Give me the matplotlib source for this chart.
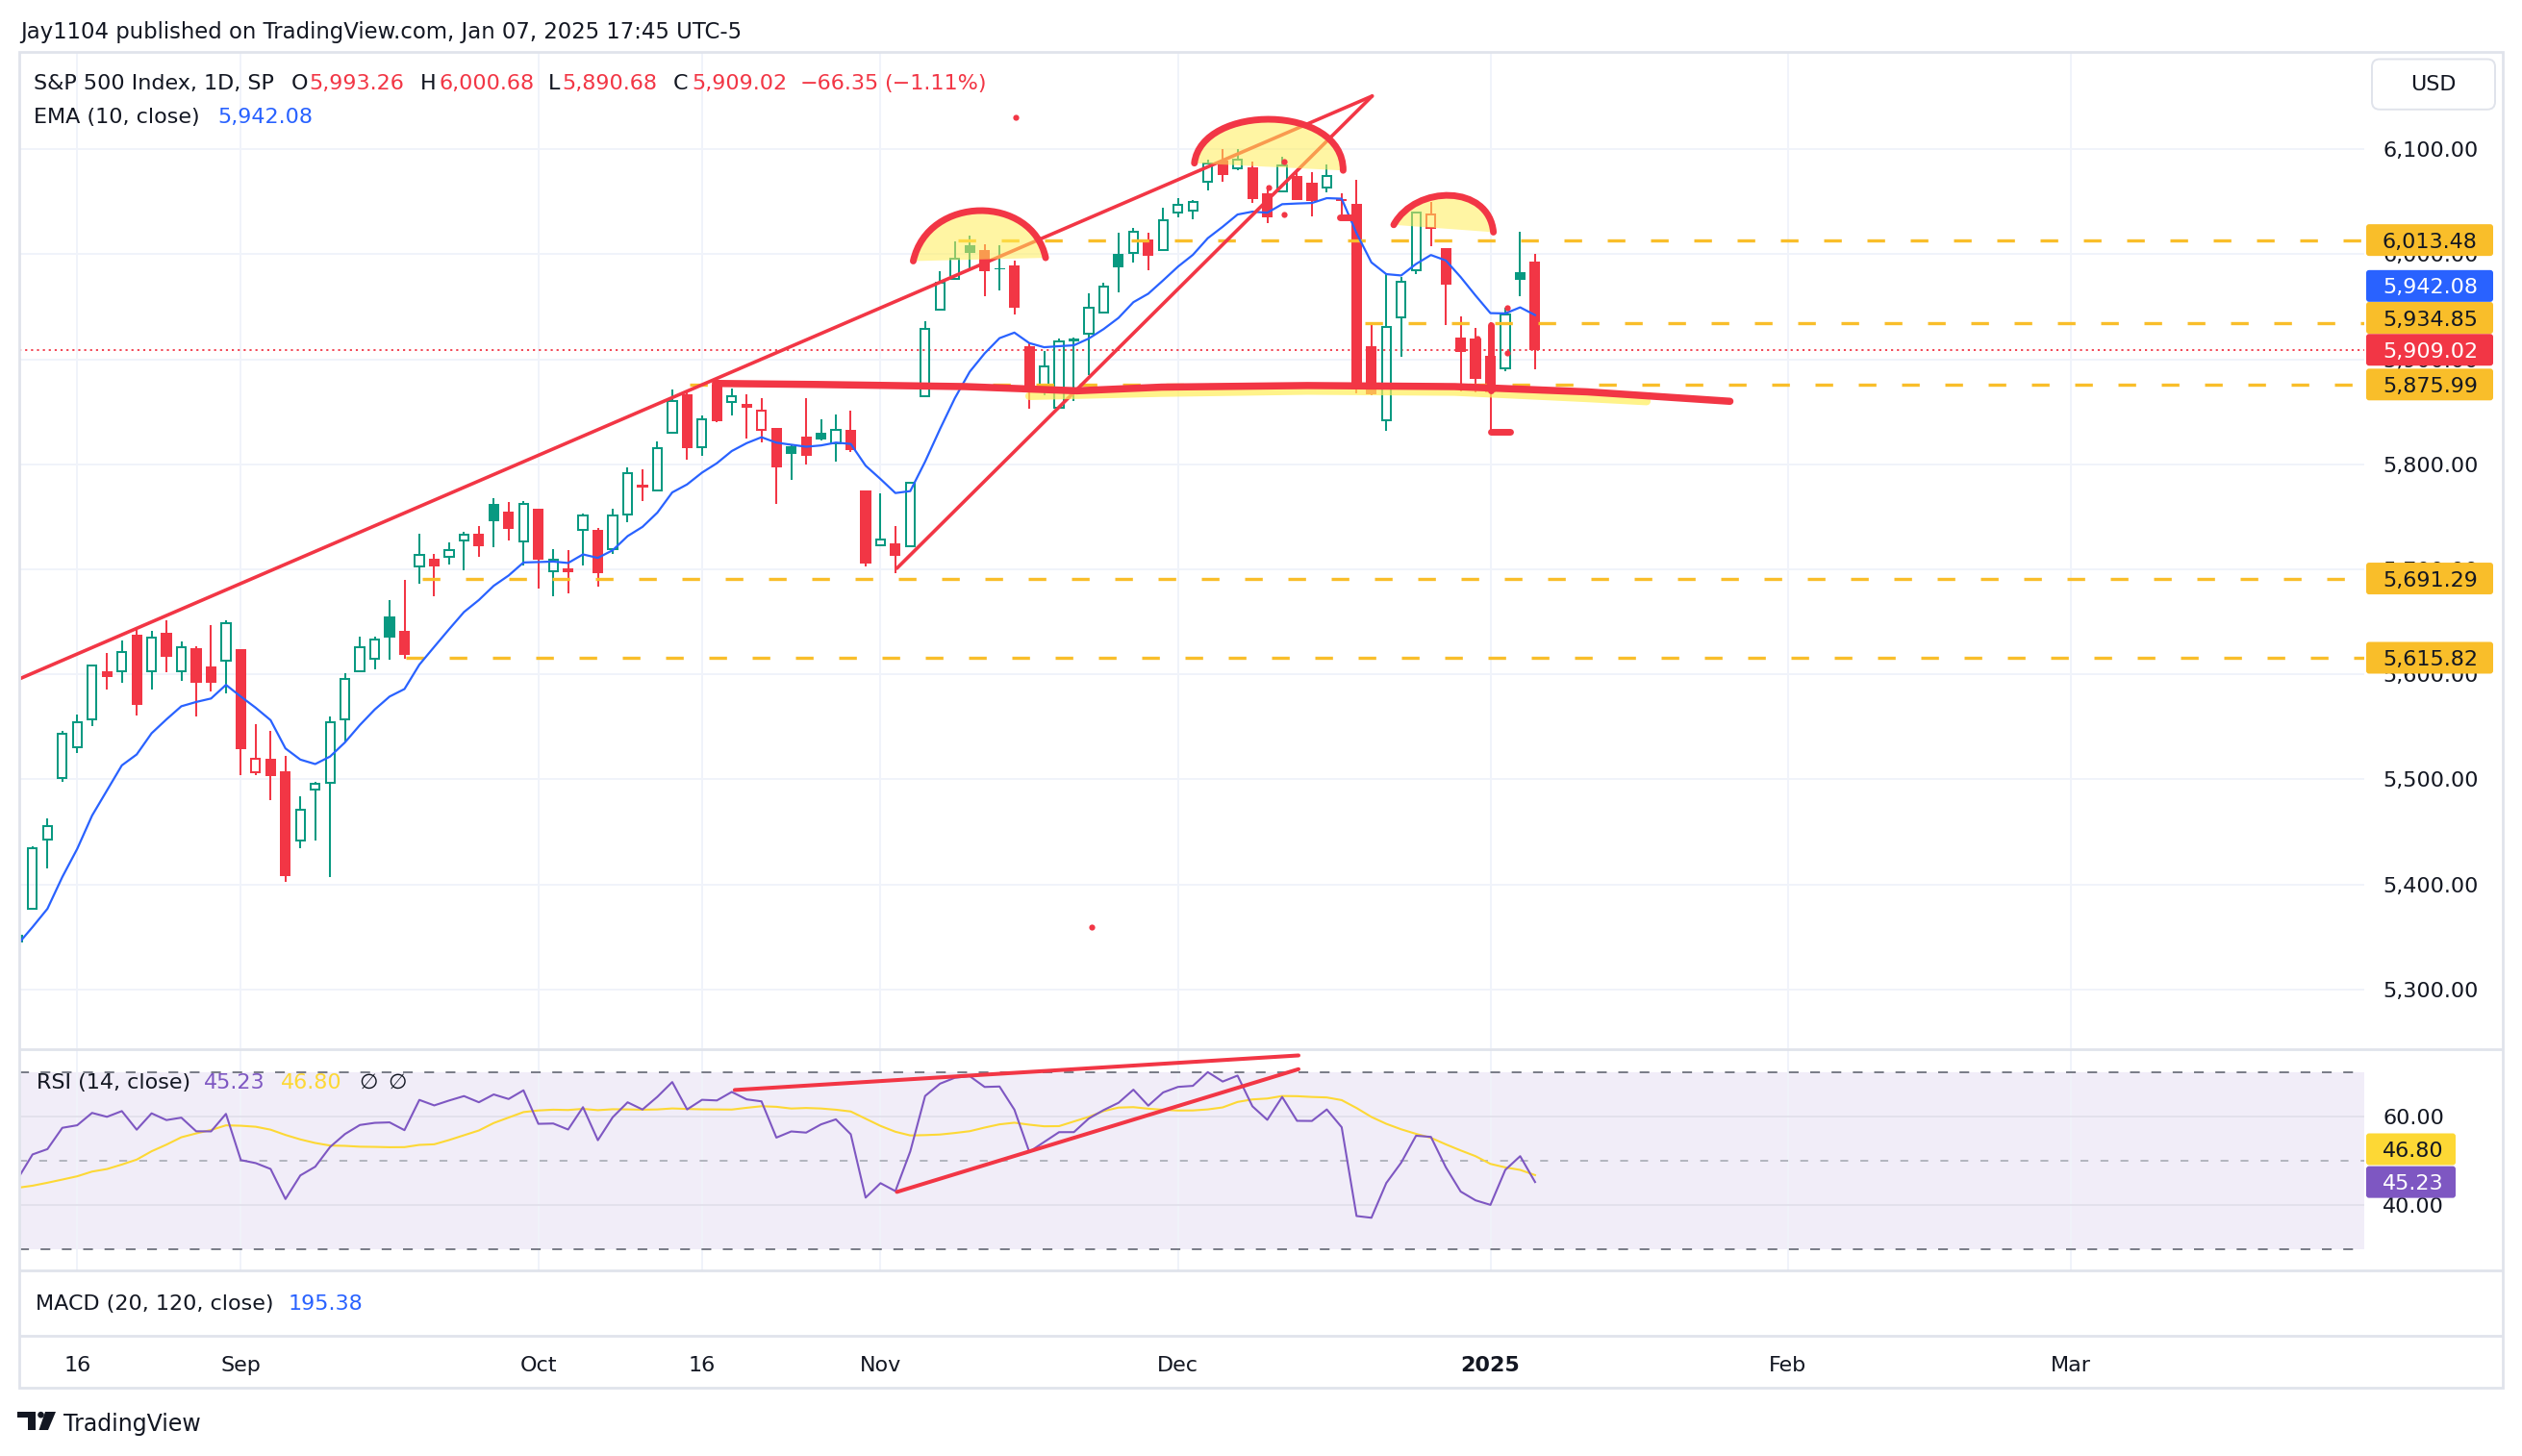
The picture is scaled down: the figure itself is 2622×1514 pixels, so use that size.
import matplotlib
matplotlib.use('Agg')  # no display

import numpy as np
import pandas as pd
import matplotlib.pyplot as plt
from matplotlib import transforms
from matplotlib.path import Path
from matplotlib.patches import PathPatch, FancyBboxPatch, Polygon, Circle, Rectangle

W, H = 2622, 1514

# ---- daily bars, Aug 12 2024 .. Jan 7 2025 ----
opens = [5351.88, 5376.98, 5442.80, 5501.13, 5530.50, 5557.23, 5602.88, 5603.09, 5637.77, 5602.82,
         5639.66, 5602.89, 5624.51, 5607.30, 5612.74, 5623.89, 5506.68, 5520.08, 5507.33, 5442.07,
         5490.51, 5496.42, 5557.48, 5603.34, 5615.21, 5655.51, 5641.68, 5702.63, 5709.88, 5711.90,
         5727.41, 5733.65, 5762.22, 5755.36, 5726.52, 5757.73, 5698.19, 5698.19, 5737.80, 5737.80,
         5719.14, 5751.80, 5778.36, 5775.09, 5829.81, 5866.74, 5816.58, 5875.62, 5859.43, 5857.82,
         5832.70, 5834.50, 5816.80, 5826.75, 5830.20, 5819.68, 5832.65, 5775.34, 5723.22, 5725.15,
         5722.43, 5864.89, 5947.55, 5976.76, 6008.86, 6003.60, 5985.75, 5989.68, 5912.79, 5874.17,
         5854.04, 5920.20, 5924.37, 5944.36, 6000.03, 6000.98, 6014.11, 6003.98, 6040.11, 6041.97,
         6069.39, 6089.03, 6081.38, 6083.00, 6057.59, 6060.15, 6074.29, 6068.17, 6063.79, 6052.55,
         6047.65, 5912.71, 5842.00, 5940.25, 5984.63, 6024.97, 6006.17, 5920.67, 5919.74, 5903.26,
         5891.07, 5982.81, 5993.26]
highs = [5371.20, 5436.50, 5463.22, 5546.23, 5561.98, 5608.30, 5620.51, 5632.68, 5643.22, 5641.82,
         5651.62, 5631.18, 5627.03, 5646.95, 5651.37, 5623.89, 5552.99, 5546.30, 5522.47, 5484.20,
         5497.91, 5560.41, 5600.71, 5636.27, 5636.05, 5670.81, 5689.75, 5733.57, 5715.14, 5725.36,
         5735.32, 5741.03, 5767.37, 5763.78, 5765.14, 5757.73, 5719.14, 5718.78, 5753.32, 5739.34,
         5757.60, 5796.80, 5795.03, 5822.13, 5871.41, 5870.36, 5846.52, 5878.46, 5872.17, 5866.92,
         5863.04, 5834.85, 5817.80, 5862.82, 5842.92, 5847.19, 5850.94, 5775.34, 5772.52, 5741.43,
         5783.44, 5936.14, 5983.84, 6012.45, 6017.31, 6009.92, 6008.19, 5993.88, 5915.09, 5908.12,
         5920.19, 5920.67, 5962.38, 5972.90, 6020.75, 6025.42, 6020.16, 6044.17, 6053.58, 6052.06,
         6089.84, 6099.97, 6099.97, 6088.51, 6065.40, 6092.59, 6079.68, 6078.58, 6085.19, 6057.68,
         6070.67, 5935.52, 5982.06, 5978.25, 6040.10, 6049.75, 6006.17, 5940.79, 5929.74, 5935.09,
         5949.34, 6021.04, 6000.68]
lows = [5324.37, 5376.98, 5415.01, 5497.97, 5525.17, 5550.74, 5585.50, 5591.57, 5560.95, 5585.16,
        5602.34, 5593.48, 5560.20, 5583.71, 5581.79, 5504.13, 5503.66, 5480.15, 5402.62, 5434.49,
        5441.72, 5406.96, 5535.50, 5601.65, 5604.53, 5614.05, 5615.08, 5686.42, 5674.49, 5704.22,
        5698.99, 5712.06, 5721.01, 5727.34, 5703.53, 5681.28, 5674.00, 5677.36, 5703.48, 5683.50,
        5714.56, 5745.02, 5764.76, 5775.09, 5829.81, 5804.48, 5808.34, 5840.25, 5846.11, 5824.81,
        5821.17, 5762.41, 5784.92, 5799.98, 5823.08, 5802.34, 5811.28, 5702.86, 5723.22, 5696.51,
        5722.10, 5864.89, 5947.55, 5976.76, 5986.69, 5960.08, 5965.91, 5942.28, 5853.01, 5865.95,
        5853.01, 5860.57, 5885.33, 5944.36, 5963.91, 5992.27, 5984.87, 6003.98, 6035.33, 6033.39,
        6061.06, 6069.12, 6079.98, 6048.63, 6029.89, 6060.15, 6051.25, 6035.77, 6059.14, 6035.19,
        5867.79, 5866.07, 5832.30, 5902.57, 5981.44, 6007.37, 5932.95, 5869.16, 5868.86, 5829.53,
        5888.66, 5960.01, 5890.68]
closes = [5344.39, 5434.43, 5455.21, 5543.22, 5554.25, 5608.25, 5597.12, 5620.85, 5570.64, 5634.61,
          5616.84, 5625.80, 5592.18, 5591.96, 5648.40, 5528.93, 5520.07, 5503.41, 5408.42, 5471.05,
          5495.52, 5554.13, 5595.76, 5626.02, 5633.09, 5634.58, 5618.26, 5713.64, 5702.55, 5718.57,
          5732.93, 5722.26, 5745.37, 5738.17, 5762.48, 5708.75, 5709.54, 5699.94, 5751.07, 5695.94,
          5751.13, 5792.04, 5780.05, 5815.03, 5859.85, 5815.26, 5842.47, 5841.47, 5864.67, 5853.98,
          5851.20, 5797.42, 5809.86, 5808.12, 5823.52, 5832.92, 5813.67, 5705.45, 5728.80, 5712.69,
          5782.76, 5929.04, 5973.10, 5995.54, 6001.35, 5983.99, 5985.38, 5949.17, 5870.62, 5893.62,
          5916.98, 5917.11, 5948.71, 5969.34, 5987.37, 6021.63, 5998.74, 6032.38, 6047.15, 6049.88,
          6086.49, 6075.11, 6090.27, 6052.85, 6034.91, 6084.19, 6051.25, 6051.09, 6074.08, 6050.61,
          5872.16, 5867.08, 5930.85, 5974.07, 6040.04, 6037.59, 5970.84, 5906.94, 5881.63, 5868.55,
          5942.47, 5975.38, 5909.02]
# closes Jul 23 .. Aug 9, only used to warm up the indicators (off screen)
warmup_closes = [5555.74, 5427.13, 5399.22, 5459.10, 5463.54, 5436.44, 5522.30,
                 5446.68, 5346.56, 5186.33, 5240.03, 5199.50, 5319.31, 5344.16]
ema_seed = 5575.0
rsi_seed_gain, rsi_seed_loss = 30.0, 27.0

tick_labels = ['16', 'Sep', 'Oct', '16', 'Nov', 'Dec', '2025', 'Feb', 'Mar']
tick_pos = [4, 15, 35, 46, 58, 78, 99, 119, 138]
price_ticks = [5300, 5400, 5500, 5600, 5700, 5800, 5900, 6000, 6100]
rsi_ticks = [40, 60]
levels = [6013.48, 5934.85, 5875.99, 5691.29, 5615.82]

header = 'Jay1104 published on TradingView.com, Jan 07, 2025 17:45 UTC-5'
ema_value = '5,942.08'
rsi_value, rsi_ma_value = '45.23', '46.80'
macd_value = '195.38'

# ---- colours ----
TEXT = '#131722'
GREEN = '#089981'
RED = '#F23645'
BLUE = '#2962FF'
PURPLE = '#7E57C2'
YELLOW = '#FDD835'
ORANGE = '#F9BE2A'
GRID = '#F0F3FA'
BORDER = '#E0E3EB'
HILITE = '#FFEE58'

# ---- indicators ----
all_close = np.array(warmup_closes + closes)
ema = np.empty_like(all_close)
ema[0] = ema_seed
for k in range(1, len(all_close)):
    ema[k] = ema[k - 1] + 2 / 11 * (all_close[k] - ema[k - 1])

g, l = rsi_seed_gain, rsi_seed_loss
rsi = []
for d in np.diff(all_close):
    g = (g * 13 + max(d, 0)) / 14
    l = (l * 13 + max(-d, 0)) / 14
    rsi.append(100 - 100 / (1 + g / l))
rsi = np.array(rsi)
rsi_ma = pd.Series(rsi).rolling(14).mean().values
n0 = len(warmup_closes)
ema_vis = ema[n0:]
rsi_vis = rsi[n0 - 1:]
ma_vis = rsi_ma[n0 - 1:]

# ---- figure / panes ----
fig = plt.figure(figsize=(W / 100, H / 100), dpi=100)
fig.patch.set_facecolor('white')


def frac(x0, y0, x1, y1):
    return [x0 / W, 1 - y1 / H, (x1 - x0) / W, (y1 - y0) / H]


ax_p = fig.add_axes(frac(20, 54, 2458, 1090))
ax_r = fig.add_axes(frac(20, 1090.7, 2458, 1320.7))
XMIN, XMAX = 0.104, 157.74
for ax in (ax_p, ax_r):
    ax.set_xlim(XMIN, XMAX)
    for s in ax.spines.values():
        s.set_visible(False)
    ax.set_xticks(tick_pos)
    ax.tick_params(axis='x', length=0, labelbottom=False)
    ax.grid(True, color=GRID, lw=1.4)
    ax.set_axisbelow(True)
    ax.yaxis.tick_right()
    ax.tick_params(axis='y', length=0, pad=13.7, labelsize=16, labelcolor=TEXT)

ax_p.set_ylim(5244.1, 6192.6)
ax_p.set_yticks(price_ticks)
ax_p.yaxis.set_major_formatter(matplotlib.ticker.StrMethodFormatter('{x:,.2f}'))
ax_r.set_ylim(25.36, 75.27)
ax_r.set_yticks(rsi_ticks)
ax_r.yaxis.set_major_formatter(matplotlib.ticker.StrMethodFormatter('{x:.2f}'))
ax_r.grid(True, axis='y', color='#E3E1EC', lw=1.4)

# ---- candles (hollow style) ----
x = np.arange(len(closes))
o, hi, lo, c = map(np.array, (opens, highs, lows, closes))
prev = np.r_[warmup_closes[-1], c[:-1]]
col = np.where(c >= prev, GREEN, RED)
hollow = c > o
top = np.maximum(o, c)
bot = np.minimum(o, c)
body = np.maximum(top - bot, 0.9)
ax_p.vlines(x, top, hi, colors=list(col), lw=1.45, zorder=3)
ax_p.vlines(x, lo, bot, colors=list(col), lw=1.45, zorder=3)
ax_p.bar(x[~hollow], body[~hollow], bottom=bot[~hollow], width=0.72,
         color=list(col[~hollow]), lw=0, zorder=3)
ax_p.bar(x[hollow], body[hollow], bottom=bot[hollow], width=0.6, facecolor='none',
         edgecolor=list(col[hollow]), lw=1.45, zorder=3)
ax_p.plot(x, ema_vis, color=BLUE, lw=1.6, zorder=3.5)

# horizontal levels and last price
level_start = [63.2, 90.55, 45.2, 27.2, 26.1]
for lv, xs in zip(levels, level_start):
    ax_p.hlines(lv, xs, XMAX, colors=ORANGE, lw=2.4, linestyles=[(0, (5.5, 8))], zorder=3.2)
ax_p.axhline(closes[-1], color=RED, lw=1.3, ls=(0, (1.2, 2.2)), zorder=2.5)

# ---- author's drawings on the price pane ----
ax_p.plot([0.11, 91.05], [5595.7, 6150.6], color=RED, lw=2.6, solid_capstyle='round', zorder=4)
ax_p.plot([59.1, 91.05], [5701.0, 6150.6], color=RED, lw=2.6, solid_capstyle='round', zorder=4)

domes = [
    [(60.2, 5993.5), (61.2, 6057.0), (68.2, 6057.0), (69.1, 5996.6)],
    [(79.1, 6086.7), (79.6, 6143.5), (89.1, 6143.5), (89.1, 6079.8)],
    [(92.5, 6028.0), (94.0, 6066.5), (98.9, 6066.5), (99.2, 6021.0)],
]
for pts in domes:
    fill = Path(pts + [pts[0]], [Path.MOVETO, Path.CURVE4, Path.CURVE4, Path.CURVE4, Path.CLOSEPOLY])
    ax_p.add_patch(PathPatch(fill, fc=HILITE, ec='none', alpha=0.55, zorder=5))
    arc = Path(pts, [Path.MOVETO, Path.CURVE4, Path.CURVE4, Path.CURVE4])
    ax_p.add_patch(PathPatch(arc, fc='none', ec=RED, lw=5.0, capstyle='round', zorder=6))

neck_hilite = [(68, 5865), (76.9, 5868), (86.7, 5870), (96.6, 5869), (105.5, 5863), (109.5, 5860)]
ax_p.plot(*zip(*neck_hilite), color=HILITE, lw=6, alpha=0.7, solid_capstyle='round', zorder=5)
neckline = [(46.9, 5877), (53.8, 5876), (63.7, 5874), (71.2, 5870), (76.9, 5873.5),
            (86.7, 5875), (96.6, 5874), (105.5, 5869), (115.1, 5860)]
ax_p.plot(*zip(*neckline), color=RED, lw=5.4, solid_capstyle='round', solid_joinstyle='round', zorder=6)

dots = [(67.1, 6130.7), (72.2, 5359.8), (84.1, 6063.2), (85.1, 6038.1), (85.1, 6087.9),
        (98.1, 5919.4), (100.1, 5948.9), (100.1, 5906.4)]
ax_p.plot(*zip(*dots), ls='none', marker='o', ms=4.5, color=RED, mew=0, zorder=6)
for seg in ([(88.9, 6035), (89.7, 6035)], [(99.0, 5831), (100.3, 5831)], [(99, 5933), (99, 5870)]):
    ax_p.plot(*zip(*seg), color=RED, lw=5.0, solid_capstyle='round', zorder=6)

# ---- RSI pane ----
ax_r.axhspan(30, 70, color=PURPLE, alpha=0.1, lw=0, zorder=0.5)
ax_r.axhline(70, color='#787B86', lw=1.4, ls=(0, (5.2, 6.2)), zorder=1)
ax_r.axhline(30, color='#787B86', lw=1.4, ls=(0, (5.2, 6.2)), zorder=1)
ax_r.axhline(50, color='#B2B5BE', lw=1.4, ls=(0, (4.2, 6.5)), zorder=1)
ax_r.plot(x, ma_vis, color=YELLOW, lw=1.5, zorder=2.9)
ax_r.plot(x, rsi_vis, color=PURPLE, lw=1.5, zorder=3)
ax_r.plot([48.2, 86.1], [66.0, 73.8], color=RED, lw=2.9, solid_capstyle='round', zorder=4)
ax_r.plot([59.1, 86.1], [43.0, 70.7], color=RED, lw=2.9, solid_capstyle='round', zorder=4)

# ---- overlay in pixel coordinates ----
ov = fig.add_axes([0, 0, 1, 1])
ov.set_xlim(0, W)
ov.set_ylim(H, 0)
ov.axis('off')
ov.set_zorder(10)


def py(ax, v):
    return ov.transData.inverted().transform(ax.transData.transform((1, v)))[1]


def txt(xp, yp, s, color=TEXT, size=16, **kw):
    ov.text(xp, yp, s, color=color, fontsize=size, ha='left', va='baseline', **kw)


txt(21, 40, header, size=16.4)
line2 = [(35, 'S&P 500 Index, 1D, SP', TEXT), (303, 'O', TEXT), (321, '5,993.26', RED),
         (436.5, 'H', TEXT), (456, '6,000.68', RED), (570, 'L', TEXT), (584, '5,890.68', RED),
         (700, 'C', TEXT), (719, '5,909.02', RED), (832, '\u221266.35', RED),
         (919, '(\u22121.11%)', RED)]
for xp, s, cl in line2:
    txt(xp, 93.3, s, cl)
txt(35, 128.3, 'EMA (10, close)')
txt(226, 128.3, ema_value, BLUE)
for xp, s, cl in [(37.5, 'RSI (14, close)', TEXT), (211.6, rsi_value, PURPLE),
                  (292, rsi_ma_value, YELLOW), (373, '\u2205', TEXT), (403.6, '\u2205', TEXT)]:
    txt(xp, 1131.7, s, cl)
txt(37, 1361.7, 'MACD (20, 120, close)')
txt(300, 1361.7, macd_value, BLUE)

# time axis labels
tx = transforms.blended_transform_factory(ax_p.transData, ov.transData)
for pos, lab in zip(tick_pos, tick_labels):
    ov.text(pos, 1426, lab, transform=tx, ha='center', va='baseline', fontsize=16, color=TEXT,
            fontweight='bold' if lab == '2025' else 'normal')

# frame
ov.add_patch(Rectangle((20, 54), 2582, 1389, fill=False, ec=BORDER, lw=2))
ov.hlines([1090.5, 1320.7, 1389], 20, 2602, colors=BORDER, lw=2)

# USD box
ov.add_patch(FancyBboxPatch((2466, 61.5), 128, 52.3, boxstyle='round,pad=0,rounding_size=8',
                            fc='white', ec=BORDER, lw=1.4))
ov.text(2530, 87.6, 'USD', ha='center', va='center', fontsize=16, color=TEXT)


def value_box(yc, s, fc, tc, x1=2592):
    ov.add_patch(FancyBboxPatch((2460, yc - 16.5), x1 - 2460, 33,
                                boxstyle='round,pad=0,rounding_size=3', fc=fc, ec='none', zorder=5))
    ov.text(2477, yc, s, ha='left', va='center_baseline', fontsize=16, color=tc, zorder=6)


price_boxes = [(6013.48, ORANGE, TEXT, 0), (5942.08, BLUE, 'white', -30.3),
               (5934.85, ORANGE, TEXT, -5.0), (5909.02, RED, 'white', 0),
               (5875.99, ORANGE, TEXT, 0), (5691.29, ORANGE, TEXT, 0), (5615.82, ORANGE, TEXT, 0)]
for v, fc, tc, dy in price_boxes:
    value_box(py(ax_p, v) + dy, f'{v:,.2f}', fc, tc)
value_box(py(ax_r, float(rsi_ma_value)) - 26.9, rsi_ma_value, YELLOW, TEXT, x1=2553)
value_box(py(ax_r, float(rsi_value)), rsi_value, PURPLE, 'white', x1=2553)

# TradingView logo
ov.add_patch(Rectangle((18, 1468), 19, 6, fc=TEXT, ec='none'))
ov.add_patch(Rectangle((29, 1468), 8, 19, fc=TEXT, ec='none'))
ov.add_patch(Circle((42.5, 1471.2), 3.3, fc=TEXT, ec='none'))
ov.add_patch(Polygon([(47, 1468), (58, 1468), (50, 1487), (40.5, 1487)], fc=TEXT, ec='none'))
txt(66, 1488, 'TradingView', size=17)

fig.savefig('out.png', dpi=100, facecolor='white')
